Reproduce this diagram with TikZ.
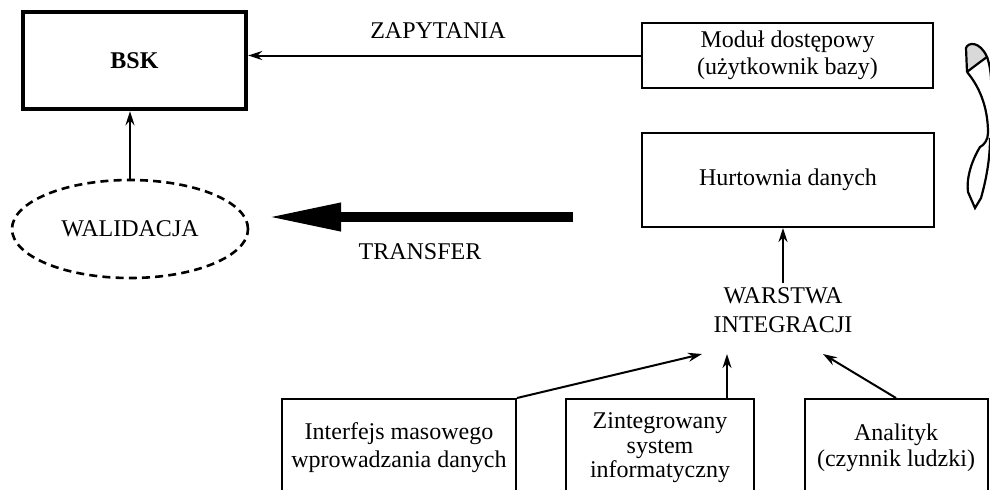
\documentclass[tikz,border=0pt]{standalone}
\usepackage{fontspec}
\setmainfont{Liberation Serif}
\usetikzlibrary{arrows.meta,shapes.geometric}

\begin{document}
\begin{tikzpicture}[x=0.5pt,y=-0.5pt,
    every node/.style={font=\fontsize{12}{13.5}\selectfont},
    box/.style={draw,line width=1pt,inner sep=0pt,align=center},
    arr/.style={-{Stealth[length=7pt,width=4.5pt]},line width=1pt}]

        \useasboundingbox (0,0) rectangle (990,489);

            %%top row
            \node[box,line width=2.2pt,minimum width=111.5pt,minimum height=48.5pt,
                font=\fontsize{12}{13.5}\selectfont\bfseries] (bsk) at (134.5,60.5){BSK};
            \node[box,minimum width=145.5pt,minimum height=32.5pt] (modul) at (787.5,55.5){Moduł dostępowy\\(użytkownik bazy)};
            \node (zapytania) at (438,31){ZAPYTANIA};
            \draw[arr] (modul.west) to (modul.west -| bsk.east);

            %%walidacja and transfer
            \node[ellipse,draw,dashed,line width=1.3pt,dash pattern=on 4pt off 2.6pt,
                minimum width=118pt,minimum height=49pt,inner sep=0pt] (walidacja) at (130,229){WALIDACJA};
            \draw[arr] (walidacja.north) to (walidacja.north |- bsk.south);
            \coordinate (trstart) at (573,217);
            \coordinate (trend) at (267,217);
            \draw[line width=5pt,-{Triangle[length=37pt,width=13pt]}] (trstart) to (trend);
            \node (transfer) at (420,252){TRANSFER};

            %%hurtownia and the integration layer
            \node[box,minimum width=146pt,minimum height=47pt] (hurtownia) at (788,180){Hurtownia danych};
            \node[align=center,inner sep=2pt,font=\fontsize{12}{14.5}\selectfont] (warstwa) at (783,310){WARSTWA\\INTEGRACJI};
            \draw[arr] (warstwa.north) to (warstwa.north |- hurtownia.south);

            %%sources
            \node[box,minimum width=117pt,minimum height=49pt,font=\fontsize{12}{14}\selectfont] (interfejs) at (399,448){Interfejs masowego\\wprowadzania danych};
            \node[box,minimum width=94pt,minimum height=49pt,font=\fontsize{12}{12.3}\selectfont] (zintegrowany) at (660,448){Zintegrowany\\system\\informatyczny};
            \node[box,minimum width=91.5pt,minimum height=49pt,font=\fontsize{12}{13}\selectfont] (analityk) at (896,448){Analityk\\(czynnik ludzki)};

            \coordinate (tipa) at (702,354);
            \coordinate (tipb) at (727,354);
            \coordinate (tipc) at (823,354);
            \draw[arr] (interfejs.north east) to (tipa);
            \draw[arr] (zintegrowany.north -| tipb) to (tipb);
            \draw[arr] (analityk.north) to (tipc);

            %%the twisted arrow on the right
            \filldraw[fill=gray!30,line width=1.1pt] (967,72) -- (966,48) .. controls (968,42) and (980,41) .. (987,57)
                .. controls (980,62) and (972,68) .. (967,72);
            \draw[line width=1.1pt] (967,72) .. controls (978,85) and (988,105) .. (988,133)
                .. controls (988,140) and (984,145) .. (980,147)
                .. controls (972,160) and (966,178) .. (968,192) -- (975,208) -- (981,198)
                .. controls (986,180) and (990,160) .. (990,138);
            \draw[line width=1.1pt] (987,57) .. controls (990,65) and (991,75) .. (991,80);
        \end{tikzpicture}
\end{document}
